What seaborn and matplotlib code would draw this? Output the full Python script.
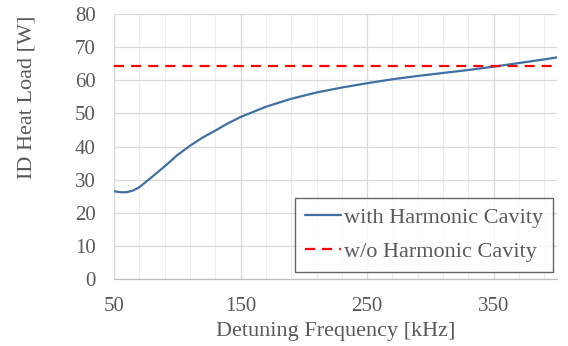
import matplotlib
matplotlib.use("Agg")
import matplotlib.pyplot as plt
import seaborn as sns
import pandas as pd
from matplotlib.ticker import FixedLocator

# ---- data ----
freq_khz = [50, 55, 60, 65, 70, 80, 90, 100, 110, 120, 130, 140, 150, 170,
            190, 210, 230, 250, 270, 290, 310, 330, 350, 370, 390, 400]
heat_with_hc = [26.5, 26.2, 26.2, 26.7, 27.7, 30.8, 34.0, 37.4, 40.2, 42.7, 44.8,
                47.0, 48.9, 52.0, 54.4, 56.3, 57.8, 59.1, 60.3, 61.3, 62.2,
                63.1, 64.1, 65.2, 66.3, 66.9]
heat_without_hc = 64.3
x_ticks = [50, 150, 250, 350]
y_ticks = [0, 10, 20, 30, 40, 50, 60, 70, 80]
label_with = "with Harmonic Cavity"
label_without = "w/o Harmonic Cavity"
x_label = "Detuning Frequency [kHz]"
y_label = "ID Heat Load [W]"

sns.set_style("white")
plt.rcParams["font.family"] = ["Liberation Serif", "DejaVu Serif"]
text_color = "#595959"

fig = plt.figure(figsize=(5.68, 3.46), dpi=100)
ax = fig.add_axes([114 / 568, 1 - 279 / 346, (557 - 114) / 568, (279 - 14) / 346])

df = pd.DataFrame({"f": freq_khz, "p": heat_with_hc})
sns.lineplot(data=df, x="f", y="p", ax=ax, color="#3F6FA3", lw=1.6,
             label=label_with, zorder=3)
ax.axhline(heat_without_hc, color="#FF0000", lw=1.6, ls=(0, (4.5, 3.2)),
           label=label_without, zorder=3)

ax.set_xlim(50, 400)
ax.set_ylim(0, 80)
ax.set_xticks(x_ticks)
ax.set_yticks(y_ticks)
ax.xaxis.set_minor_locator(FixedLocator(list(range(50, 401, 20))))
ax.grid(which="major", color="#D9D9D9", lw=0.9)
ax.grid(which="minor", axis="x", color="#EEEEEE", lw=0.8)
ax.set_axisbelow(True)

for s in ["top", "right"]:
    ax.spines[s].set_visible(False)
ax.spines["left"].set_color("#D9D9D9")
ax.spines["bottom"].set_color("#BFBFBF")
ax.spines["left"].set_linewidth(0.9)
ax.spines["bottom"].set_linewidth(0.9)

ax.tick_params(axis="both", which="both", length=0, labelsize=15,
               labelcolor=text_color)
ax.tick_params(axis="x", pad=13)
ax.tick_params(axis="y", pad=13)

ax.set_xlabel(x_label, fontsize=16, color=text_color, labelpad=4)
ax.set_ylabel(y_label, fontsize=16, color=text_color)
ax.yaxis.set_label_coords(-0.175, 0.685)

leg = ax.legend(loc="lower right", bbox_to_anchor=(0.991, 0.026),
                fontsize=16, frameon=True, fancybox=False,
                handlelength=1.6, handletextpad=0.15, labelspacing=0.6,
                borderpad=0.45, borderaxespad=0)
leg.get_frame().set_edgecolor("#404040")
leg.get_frame().set_linewidth(1.0)
for t in leg.get_texts():
    t.set_color(text_color)

fig.savefig("out.png", dpi=100)
